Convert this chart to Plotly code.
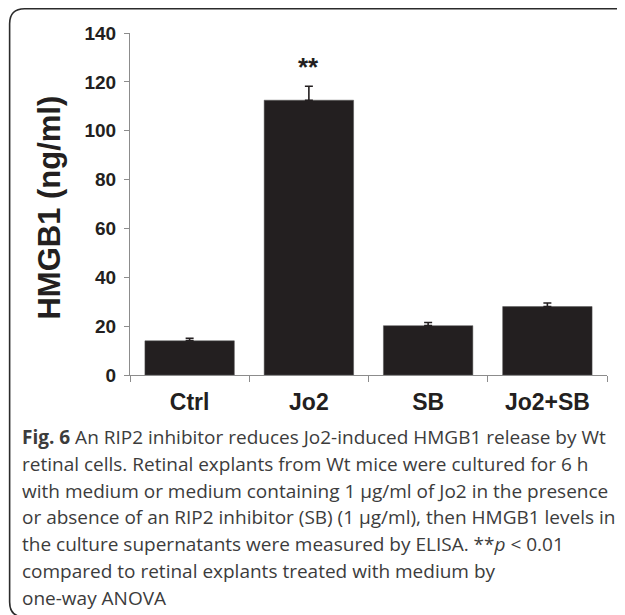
import plotly.graph_objects as go

categories = ["Ctrl", "Jo2", "SB", "Jo2+SB"]
values = [14.0, 112.5, 20.2, 28.0]
errors = [1.0, 5.7, 1.3, 1.5]
y_ticks = [0, 20, 40, 60, 80, 100, 120, 140]
sig_labels = ["", "**", "", ""]
sig_y = [None, 126.0, None, None]

caption_lines = [
    "<b>Fig. 6</b> An RIP2 inhibitor reduces Jo2-induced HMGB1 release by Wt",
    "retinal cells. Retinal explants from Wt mice were cultured for 6 h",
    "with medium or medium containing 1 µg/ml of Jo2 in the presence",
    "or absence of an RIP2 inhibitor (SB) (1 µg/ml), then HMGB1 levels in",
    "the culture supernatants were measured by ELISA. **<i>p</i> &lt; 0.01",
    "compared to retinal explants treated with medium by",
    "one-way ANOVA",
]

# page body has an 8px margin; figure coords = screen coords - 8
OFF = 8
W, H = 625 - OFF, 615 - OFF
L, R, T, B = 129.5 - OFF, 625 - 607, 33 - OFF, 615 - 375
PW, PH = W - L - R, H - T - B

def px(x):  # screen x -> paper
    return (x - OFF - L) / PW

def py(y):  # screen y -> paper
    return (H - B - (y - OFF)) / PH

fig = go.Figure()
fig.add_trace(go.Bar(
    x=categories, y=values,
    marker=dict(color="#231f20", line=dict(color="#555555", width=0.5)),
    width=0.75,
    error_y=dict(type="data", symmetric=False, array=errors,
                 arrayminus=[0] * len(errors),
                 color="#231f20", thickness=1.6, width=4),
    showlegend=False,
))

for c, lab, yy in zip(categories, sig_labels, sig_y):
    if lab:
        fig.add_annotation(x=c, y=yy, text=f"<b>{lab}</b>", showarrow=False,
                           font=dict(family="Liberation Sans, Arial", size=26,
                                     color="#231f20"),
                           xanchor="center", yanchor="middle")

fig.add_annotation(xref="paper", yref="paper", x=px(48), y=py(208),
                   text="<b>HMGB1 (ng/ml)</b>", textangle=-90, showarrow=False,
                   font=dict(family="Liberation Sans, Arial", size=31,
                             color="#231f20"),
                   xanchor="center", yanchor="middle")

line_y0 = 437
dy = 26.8
for i, t in enumerate(caption_lines):
    fig.add_annotation(xref="paper", yref="paper", x=px(19),
                       y=py(line_y0 + i * dy), text=t, showarrow=False,
                       font=dict(family="Open Sans, Noto Sans", size=19,
                                 color="#3c3c3c"),
                       xanchor="left", yanchor="middle", align="left")

# rounded border (right and bottom sides extend past the page)
x0, y0, x1, y1, r = 9, 8.8, 660, 617, 15
path = (f"M {px(x0)},{py(y1 - r)} L {px(x0)},{py(y0 + r)} "
        f"Q {px(x0)},{py(y0)} {px(x0 + r)},{py(y0)} L {px(x1)},{py(y0)} "
        f"M {px(x0)},{py(y1 - r)} Q {px(x0)},{py(y1)} {px(x0 + r)},{py(y1)} "
        f"L {px(x1)},{py(y1)}")
fig.add_shape(type="path", xref="paper", yref="paper", path=path,
              line=dict(color="#2b2b2b", width=1.6))

fig.update_layout(
    width=W, height=H,
    margin=dict(l=L, r=R, t=T, b=B, pad=0),
    paper_bgcolor="white", plot_bgcolor="white",
    bargap=0.25,
)
fig.update_xaxes(
    showline=True, linecolor="#8c8c8c", linewidth=1.2,
    ticks="outside", ticklen=6, tickcolor="#8c8c8c", tickwidth=1.2,
    tickson="boundaries", showgrid=False,
    tickfont=dict(family="Liberation Sans, Arial", size=23, color="#231f20",
                  weight="bold"),
    ticklabelstandoff=6,
)
fig.update_yaxes(
    range=[0, 140], tickvals=y_ticks,
    showline=True, linecolor="#8c8c8c", linewidth=1.2,
    ticks="outside", ticklen=5, tickcolor="#8c8c8c", tickwidth=1.2,
    showgrid=False, zeroline=False,
    tickfont=dict(family="Liberation Sans Narrow, Arial Narrow, Liberation Sans",
                  size=19, color="#231f20", weight="bold"),
    ticklabelstandoff=4,
)

fig.write_html("out.html")
